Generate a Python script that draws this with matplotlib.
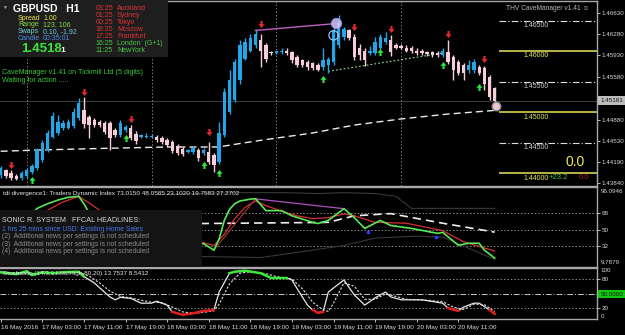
import numpy as np
import matplotlib
matplotlib.use("Agg")
import matplotlib.pyplot as plt
from matplotlib.patches import Rectangle

plt.rcParams['font.family'] = ['Liberation Sans', 'DejaVu Sans']

# ---------------- data ----------------
bars = list(range(96))  # H1 bars, bar 0 = 16 May 19:00
opens = [1.4397, 1.4405, 1.4400, 1.4395, 1.4392, 1.4395, 1.4402, 1.4409, 1.4422, 1.4438,
         1.4459, 1.4466, 1.4474, 1.4474, 1.4477, 1.4490, 1.4503, 1.4492, 1.4487, 1.4484,
         1.4482, 1.4482, 1.4471, 1.4462, 1.4471, 1.4474, 1.4464, 1.4459, 1.4459, 1.4459,
         1.4459, 1.4458, 1.4454, 1.4451, 1.4444, 1.4440, 1.4435, 1.4435, 1.4438, 1.4433,
         1.4435, 1.4430, 1.4418, 1.4462, 1.4500, 1.4520, 1.4552, 1.4588, 1.4601, 1.4610,
         1.4618, 1.4610, 1.4598, 1.4597, 1.4598, 1.4601, 1.4598, 1.4590, 1.4585, 1.4582,
         1.4580, 1.4577, 1.4574, 1.4577, 1.4582, 1.4610, 1.4623, 1.4634, 1.4624, 1.4606,
         1.4601, 1.4597, 1.4597, 1.4606, 1.4615, 1.4618, 1.4610, 1.4608, 1.4606, 1.4605,
         1.4601, 1.4600, 1.4598, 1.4598, 1.4597, 1.4593, 1.4598, 1.4590, 1.4582, 1.4577,
         1.4569, 1.4569, 1.4574, 1.4572, 1.4557, 1.4539]
highs = [1.4412, 1.4407, 1.4405, 1.4399, 1.4404, 1.4409, 1.4415, 1.4441, 1.4454, 1.4471,
         1.4500, 1.4495, 1.4487, 1.4489, 1.4507, 1.4523, 1.4525, 1.4495, 1.4490, 1.4487,
         1.4485, 1.4485, 1.4474, 1.4487, 1.4479, 1.4479, 1.4469, 1.4464, 1.4466, 1.4464,
         1.4462, 1.4461, 1.4458, 1.4454, 1.4448, 1.4443, 1.4440, 1.4444, 1.4441, 1.4441,
         1.4451, 1.4433, 1.4484, 1.4539, 1.4569, 1.4588, 1.4618, 1.4621, 1.4628, 1.4636,
         1.4628, 1.4613, 1.4601, 1.4601, 1.4605, 1.4605, 1.4601, 1.4593, 1.4588, 1.4585,
         1.4583, 1.4580, 1.4605, 1.4590, 1.4642, 1.4659, 1.4639, 1.4637, 1.4629, 1.4611,
         1.4606, 1.4608, 1.4623, 1.4629, 1.4631, 1.4626, 1.4613, 1.4611, 1.4610, 1.4608,
         1.4605, 1.4603, 1.4601, 1.4601, 1.4600, 1.4606, 1.4618, 1.4593, 1.4585, 1.4580,
         1.4585, 1.4588, 1.4577, 1.4575, 1.4561, 1.4541]
lows = [1.4392, 1.4392, 1.4389, 1.4389, 1.4389, 1.4392, 1.4399, 1.4405, 1.4418, 1.4435,
        1.4458, 1.4462, 1.4471, 1.4472, 1.4474, 1.4487, 1.4474, 1.4458, 1.4476, 1.4476,
        1.4464, 1.4438, 1.4459, 1.4459, 1.4467, 1.4454, 1.4448, 1.4458, 1.4458, 1.4458,
        1.4451, 1.4448, 1.4443, 1.4433, 1.4430, 1.4428, 1.4433, 1.4431, 1.4420, 1.4430,
        1.4415, 1.4402, 1.4415, 1.4459, 1.4497, 1.4516, 1.4547, 1.4585, 1.4598, 1.4606,
        1.4574, 1.4582, 1.4593, 1.4595, 1.4595, 1.4593, 1.4580, 1.4574, 1.4574, 1.4570,
        1.4569, 1.4567, 1.4570, 1.4564, 1.4577, 1.4606, 1.4619, 1.4618, 1.4585, 1.4585,
        1.4575, 1.4593, 1.4593, 1.4603, 1.4611, 1.4592, 1.4603, 1.4603, 1.4598, 1.4597,
        1.4593, 1.4593, 1.4592, 1.4590, 1.4590, 1.4590, 1.4579, 1.4552, 1.4561, 1.4552,
        1.4565, 1.4565, 1.4561, 1.4536, 1.4520, 1.4510]
closes = [1.4409, 1.4395, 1.4392, 1.4391, 1.4400, 1.4405, 1.4412, 1.4438, 1.4449, 1.4466,
          1.4494, 1.4484, 1.4482, 1.4484, 1.4500, 1.4515, 1.4480, 1.4479, 1.4479, 1.4479,
          1.4467, 1.4458, 1.4462, 1.4482, 1.4476, 1.4458, 1.4453, 1.4462, 1.4461, 1.4461,
          1.4454, 1.4451, 1.4446, 1.4436, 1.4433, 1.4431, 1.4438, 1.4441, 1.4425, 1.4438,
          1.4418, 1.4413, 1.4466, 1.4533, 1.4552, 1.4582, 1.4610, 1.4615, 1.4621, 1.4629,
          1.4601, 1.4588, 1.4597, 1.4600, 1.4601, 1.4597, 1.4585, 1.4577, 1.4577, 1.4574,
          1.4572, 1.4569, 1.4585, 1.4587, 1.4634, 1.4647, 1.4637, 1.4621, 1.4590, 1.4593,
          1.4585, 1.4601, 1.4615, 1.4623, 1.4621, 1.4598, 1.4606, 1.4606, 1.4601, 1.4600,
          1.4597, 1.4597, 1.4595, 1.4593, 1.4593, 1.4601, 1.4582, 1.4569, 1.4565, 1.4564,
          1.4577, 1.4582, 1.4565, 1.4547, 1.4525, 1.4518]
bid_price = 1.45181

ma_bars = [0, 7, 21, 32, 42, 44, 50, 60, 68, 77, 86, 95]
ma_vals = [1.4436, 1.4438, 1.4441, 1.4443, 1.4443, 1.4446, 1.4454, 1.4466, 1.4479, 1.4489, 1.4497, 1.4503]

sell_bars = [2, 16, 25, 40, 50, 68, 75, 86, 93]
sell_vals = [1.4413, 1.4533, 1.4489, 1.4467, 1.4645, 1.4639, 1.4636, 1.4629, 1.4587]
buy_bars = [6, 24, 39, 42, 62, 73, 85, 92]
buy_vals = [1.4389, 1.4458, 1.4413, 1.4400, 1.4554, 1.4598, 1.4577, 1.4541]

res_line_bars = [49, 64]
res_line_vals = [1.4634, 1.4645]
sup_line_bars = [63, 85]
sup_line_vals = [1.4567, 1.4597]

level_major = [1.46, 1.45, 1.44]
level_minor = [1.465, 1.455, 1.445]
price_ticks = [1.4663, 1.4628, 1.4593, 1.4558, 1.4488, 1.4453, 1.4419, 1.4384]

day_sep_bars = [5, 29, 53, 77]
time_tick_bars = [0, 8, 16, 24, 32, 40, 48, 56, 64, 72, 80, 88]
time_tick_labels = ["16 May 2016", "17 May 03:00", "17 May 11:00", "17 May 19:00",
                    "18 May 03:00", "18 May 11:00", "18 May 19:00", "19 May 03:00",
                    "19 May 11:00", "19 May 19:00", "20 May 03:00", "20 May 11:00"]

# TDI
tdi_rsi_bars = [0, 3, 5, 7, 9, 11, 13, 15, 16, 17, 19, 22, 25, 28, 31, 34, 37, 39, 41, 42, 43, 44,
                45, 46, 47, 48, 49, 51, 54, 56, 60, 61, 63, 66, 68, 70, 73, 75, 79, 84, 85, 88,
                90, 92, 93, 95]
tdi_rsi_vals = [45, 50, 60, 73, 78, 82, 85, 86, 78, 68, 60, 55, 50, 45, 42, 35, 33, 35, 28, 40, 60, 72,
                78, 81, 82, 83, 83.5, 70.6, 70.6, 65, 58, 56.7, 60, 72.7, 63, 51.4, 60, 54.6, 51.4, 46.1, 47.1, 33.3,
                35.4, 35.4, 28, 19.4]
tdi_sig_bars = [0, 4, 7, 9, 12, 15, 17, 19, 22, 26, 30, 34, 37, 39, 41, 43, 45, 47, 49, 51, 54, 57,
                60, 63, 66, 68, 72, 78, 85, 89, 95]
tdi_sig_vals = [50, 52, 62, 71, 80, 86, 79, 71, 62, 54, 48, 42, 38, 36, 33, 45, 62, 74, 81, 76, 70, 65,
                62, 63, 67, 65, 58, 57, 49, 37, 27]
tdi_base_bars = [0, 39, 61, 63, 68, 75, 85, 95]
tdi_base_vals = [55, 56.7, 57.8, 58, 65, 67.4, 57, 47.4]
tdi_up_bars = [30, 45, 55, 61, 66, 72, 76, 79, 95]
tdi_up_vals = [88, 90, 90, 89, 90, 89, 86, 73, 73]
tdi_lo_bars = [30, 50, 60, 66, 72, 80, 85, 90, 95]
tdi_lo_vals = [22, 20, 28, 33, 41, 43, 42, 30, 18]
tdi_div_bars = [49, 66]
tdi_div_vals = [83.3, 72.7]
tdi_div2_bars = [41, 49]
tdi_div2_vals = [28, 83.3]
tdi_dot_bars = [70.6, 83.7]
tdi_dot_vals = [48, 41.8]
tdi_levels = [68, 50, 32]
tdi_min, tdi_max = 9.7879, 96.0946

# Stochastic
st_main_bars = [0, 3, 5, 6, 8, 10, 12, 15, 16, 18, 19, 21, 22, 23, 25, 27, 29, 30, 32, 33, 35, 37,
                39, 41, 42, 44, 45, 47, 50, 52, 55, 56, 57, 59, 60, 61, 62, 63, 66, 68, 70, 72,
                74, 75, 77, 81, 85, 86, 88, 89, 91, 92, 94, 95]
st_main_vals = [94, 90, 96, 88, 94, 92, 94, 95, 85, 72, 62, 43, 37, 42, 40, 30, 30, 34, 26, 12, 6, 9,
                14, 16, 53, 92, 95, 97, 92, 82, 82, 78, 60, 26, 16, 10, 12, 53, 78, 47, 26, 41,
                53, 43, 37, 37, 30, 20, 14, 22, 30, 30, 16, 8]
st_sig_bars = [0, 3, 5, 7, 10, 13, 15, 17, 19, 21, 23, 25, 27, 29, 31, 33, 35, 37, 39, 41, 42, 44,
               46, 48, 51, 53, 56, 58, 60, 62, 63, 64, 66, 68, 70, 72, 74, 76, 78, 82, 85, 87,
               89, 91, 93, 95]
st_sig_vals = [92, 93, 92, 91, 93, 94, 94, 86, 72, 55, 44, 41, 36, 32, 31, 22, 12, 9, 11, 14, 28, 70,
               92, 95, 91, 85, 80, 60, 32, 16, 13, 30, 72, 65, 38, 38, 49, 44, 38, 36, 33, 22,
               17, 28, 27, 13]
st_levels = [80, 20]

# ---------------- figure ----------------
W, H = 625, 335
fig = plt.figure(figsize=(W / 100, H / 100), dpi=100, facecolor='black')


def rect(x0, y0, x1, y1):
    return [x0 / W, 1 - y1 / H, (x1 - x0) / W, (y1 - y0) / H]


XLIM = (-0.135, 114.67)
ax = fig.add_axes(rect(0, 0.5, 597, 186))
ax_t = fig.add_axes(rect(0, 187, 597, 267))
ax_s = fig.add_axes(rect(0, 268, 597, 319))
for a in (ax, ax_t, ax_s):
    a.set_facecolor('black')
    a.set_xlim(*XLIM)
    a.spines['left'].set_visible(False)
    for s in ('top', 'right', 'bottom'):
        a.spines[s].set_color('#a8a8a8')
        a.spines[s].set_linewidth(1.0)
    a.yaxis.tick_right()
    a.tick_params(axis='y', colors='#d8d8d8', labelsize=4.5, length=2, width=0.6, pad=1.5)
    a.tick_params(axis='x', bottom=False, labelbottom=False)

# ---- main price panel ----
ax.set_ylim(1.43791, 1.46831)
o = np.array(opens); h = np.array(highs); l = np.array(lows); c = np.array(closes)
bull = c >= o
col = np.where(bull, '#22a6e6', '#f6cdd8')
ax.vlines(bars, l, h, colors=col, lw=1.0, zorder=3)
ax.bar(bars, np.maximum(np.abs(c - o), 0.00012), bottom=np.minimum(o, c), width=0.62,
       color=col, linewidth=0, zorder=4)

ax.axhline(bid_price, color='#3a3a3a', lw=0.8, zorder=1)
for b in day_sep_bars:
    ax.axvline(b, color='#7a7a7a', lw=0.7, ls=(0, (1.5, 2)), zorder=1)
ax.plot(ma_bars, ma_vals, color='#ececec', lw=1.0, dashes=(5, 3), zorder=2)
ax.plot(res_line_bars, res_line_vals, color='#c060c0', lw=1.0, zorder=5)
ax.plot(sup_line_bars, sup_line_vals, color='#90e890', lw=0.8, ls=(0, (1.5, 2)), zorder=2)

x_lvl0 = 95.85
ax.hlines(level_major, x_lvl0, XLIM[1], colors='#e6e65a', lw=1.1, zorder=2)
ax.hlines(level_minor, x_lvl0, XLIM[1], colors='#e0e0e0', lw=0.8, linestyles=[(0, (6, 2, 1, 2))], zorder=2)

down_arrow = [(-0.3, 1.0), (0.3, 1.0), (0.3, 0.1), (0.85, 0.1), (0, -1.0), (-0.85, 0.1), (-0.3, 0.1), (-0.3, 1.0)]
up_arrow = [(x, -y) for x, y in down_arrow]
ax.scatter(sell_bars, sell_vals, marker=down_arrow, s=26, color='#e8282c', linewidths=0, zorder=6)
ax.scatter(buy_bars, buy_vals, marker=up_arrow, s=26, color='#2ee63c', linewidths=0, zorder=6)
# highlight circles
ax.scatter([64.5], [1.4647], s=55, facecolor='#d8c8f4', edgecolor='#9090ff', linewidths=0.8, alpha=0.85, zorder=7)
ax.scatter([64], [1.4626], s=45, facecolor='none', edgecolor='#a8c8ff', linewidths=0.8, zorder=7)
ax.scatter([95.2], [1.4510], s=38, facecolor='#eec6cf', edgecolor='#8c8c8c', linewidths=1.0, zorder=7)

ax.set_yticks(price_ticks)
ax.set_yticklabels([f"{p:.5f}" for p in price_ticks])

# ---- TDI panel ----
ax_t.set_ylim(tdi_min, tdi_max)
ax_t.hlines(tdi_levels, XLIM[0], XLIM[1], colors='#8a8a8a', lw=0.7, linestyles=[(0, (1.5, 2))], zorder=1)
ax_t.plot(tdi_up_bars, tdi_up_vals, color='#383838', lw=0.8, zorder=2)
ax_t.plot(tdi_lo_bars, tdi_lo_vals, color='#383838', lw=0.8, zorder=2)
ax_t.plot(tdi_base_bars, tdi_base_vals, color='#eeeeee', lw=1.2, dashes=(5, 3), zorder=3)
ax_t.plot(tdi_sig_bars, tdi_sig_vals, color='#d83030', lw=0.9, zorder=4)
ax_t.plot(tdi_div2_bars, tdi_div2_vals, color='#9a3a3a', lw=0.8, zorder=4)
ax_t.plot(tdi_div_bars, tdi_div_vals, color='#b050c0', lw=0.9, zorder=4)
ax_t.plot(tdi_rsi_bars, tdi_rsi_vals, color='#58e858', lw=1.2, zorder=5)
ax_t.scatter(tdi_dot_bars, tdi_dot_vals, marker='s', s=4, color='#2a3cff', zorder=6)
ax_t.set_yticks(tdi_levels)
ax_t.set_yticklabels([str(v) for v in tdi_levels])

# ---- Stochastic panel ----
ax_s.set_ylim(-2.7, 102.7)
ax_s.hlines(st_levels, XLIM[0], XLIM[1], colors='#8a8a8a', lw=0.7, linestyles=[(0, (1.5, 2))], zorder=1)
ax_s.axhline(50, color='#c8c8c8', lw=0.7, ls=(0, (6, 2, 1, 2)), zorder=1)
ax_s.plot(st_sig_bars, st_sig_vals, color='#e0e0e0', lw=0.8, ls=(0, (2, 1.5)), zorder=3)
ax_s.plot(st_main_bars, st_main_vals, color='#e8e8e8', lw=0.9, zorder=4)
mv = np.array(st_main_vals, dtype=float)
ax_s.plot(st_main_bars, np.ma.masked_where(mv < 80, mv), color='#3ce63c', lw=1.8, zorder=5)
ax_s.plot(st_main_bars, np.ma.masked_where(mv > 20, mv), color='#e02020', lw=1.8, zorder=5)
ax_s.set_yticks(st_levels)
ax_s.set_yticklabels([str(v) for v in st_levels])
ax_s.set_xticks(time_tick_bars)
ax_s.set_xticklabels(time_tick_labels)
ax_s.tick_params(axis='x', bottom=True, labelbottom=True, length=2.5, width=0.6,
                 colors='#e0e0e0', labelsize=4.6, pad=1.5)
plt.setp(ax_s.get_xticklabels(), ha='left')

# ---------------- overlay (UI texts / boxes) ----------------
ov = fig.add_axes([0, 0, 1, 1], zorder=10)
ov.set_xlim(0, W)
ov.set_ylim(H, 0)
ov.axis('off')
ov.patch.set_alpha(0)


def txt(x, y, s, color, size, **kw):
    kw.setdefault('ha', 'left')
    kw.setdefault('va', 'center')
    ov.text(x, y, s, color=color, fontsize=size, **kw)


# info box
ov.add_patch(Rectangle((0, 0), 168, 57, facecolor='#1e1e1e', edgecolor='none'))
txt(2.5, 7.5, "▼", '#b0b0b0', 3.5)
txt(13, 9, f"GBPUSD   H1", 'white', 7.5, weight='bold')
info_rows = [("Spread", "1.00", '#e6e64a'), ("Range", "123, 106", '#8ad84a'),
             ("Swaps", "0.10, -1.92", '#6ecfe0'), ("Candle", "00:35:01", '#4a8ee8')]
for k, (lab, val, cc) in enumerate(info_rows):
    yy = 18.3 + k * 6.7
    txt(18, yy, lab, cc, 5)
    txt(43, yy, val, cc, 5)
txt(21, 49, "1.4518", '#3ae63a', 9.5, weight='bold')
txt(60.5, 50, "1", 'white', 6, weight='bold')
clock_rows = [("03:25", "Auckland", '#e03232'), ("01:25", "Sydney", '#e03232'),
              ("00:25", "Tokyo", '#e03232'), ("18:25", "Moscow", '#e03232'),
              ("17:25", "Frankfurt", '#e03232'), ("16:25", "London  (G+1)", '#48c848'),
              ("11:25", "NewYork", '#48c848')]
for k, (tm, city, cc) in enumerate(clock_rows):
    yy = 8 + k * 7.15
    txt(95.5, yy, tm, cc, 5)
    txt(117, yy, city, cc, 5)

txt(2, 72, "CaveManager v1.41 on Tickmill Ltd (5 digits)", '#3cc83c', 5.1)
txt(2, 80.5, "Waiting for action .....", '#3cc83c', 5.1)
txt(589, 8, "THV CaveManager v1.41 ☺", '#b8b8b8', 4.8, ha='right')

# level labels
for lv in level_major + level_minor:
    ypx = 12.3 + (1.46630 - lv) / 0.00016344
    cc = '#e6e65a' if lv in level_major else '#d0d0d0'
    txt(523, ypx + 5, f"{lv:.5f}", cc, 5)
txt(549, 177.5, "+23.2", '#3cc83c', 5.5)
txt(579, 177.5, "0.0", '#a02020', 5.5)
txt(566, 162, "0.0", '#ecec50', 10)

# current price box
ov.add_patch(Rectangle((598, 96), 27, 8.5, facecolor='#bcbcbc', edgecolor='none'))
txt(600.5, 100.3, "1.45181", '#141414', 4.5)

# TDI texts
txt(3, 193, "tdi divergence1: Traders Dynamic Index 73.0150 48.0585 23.1020 19.7583 27.2702",
    '#e8e8e8', 4.6)
txt(600.5, 191.5, "96.0946", '#d8d8d8', 4.5)
txt(600.5, 262.5, "9.7879", '#d8d8d8', 4.5)
ov.add_patch(Rectangle((0, 210), 202, 57, facecolor='#141414', edgecolor='none'))
txt(2, 221, "SONIC R. SYSTEM   FFCAL HEADLINES:", '#d8d8d8', 5.2)
txt(2, 229.5, "1 hrs 25 mins since USD: Existing Home Sales", '#4a78f0', 4.9)
for k, n in enumerate(["(2)", "(3)", "(4)"]):
    txt(2, 236.8 + k * 7.2, f"{n}  Additional news per settings is not scheduled", '#8c8c8c', 4.9)

# Stochastic texts
txt(3, 274, "Stochastic (14,3,3,Low/High,80,20) 13.7537 8.5412", '#e8e8e8', 4.6)
txt(600.5, 271, "100", '#d8d8d8', 4.5)
txt(600.5, 316.5, "0", '#d8d8d8', 4.5)
ov.add_patch(Rectangle((598, 290), 27, 8, facecolor='#10c810', edgecolor='none'))
txt(600.5, 294, "50.0000", '#101010', 4.5)

fig.savefig("out.png", dpi=100, facecolor='black')
